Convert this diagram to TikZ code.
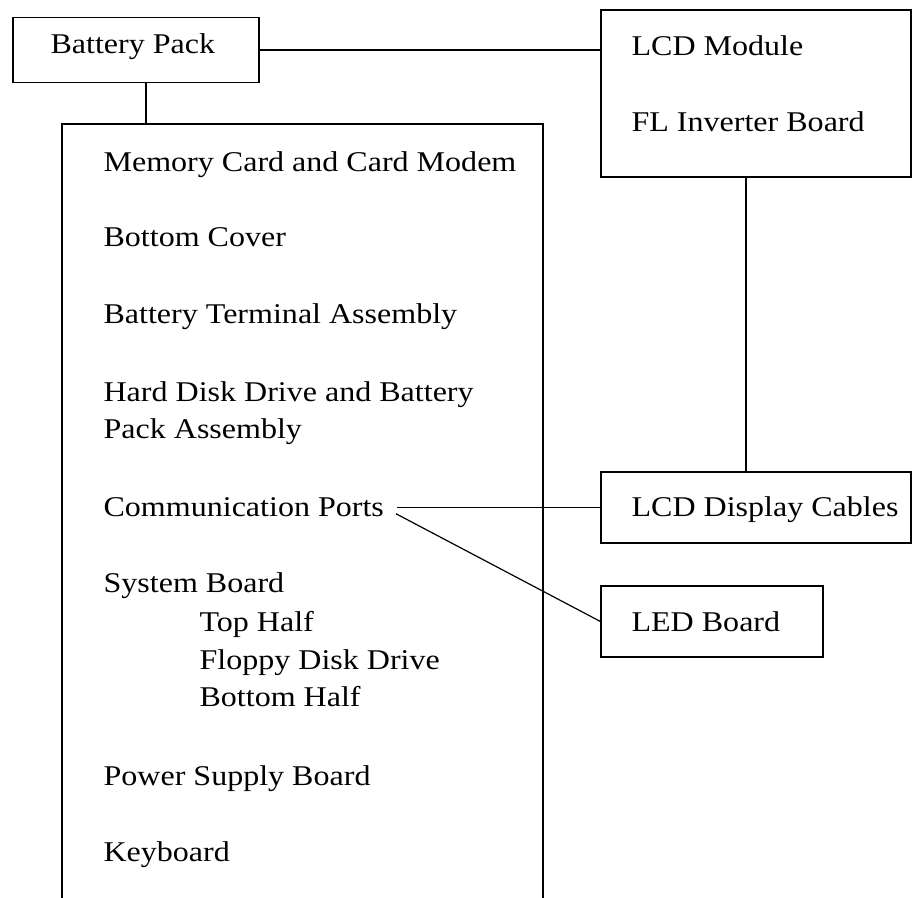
\documentclass[tikz,border=0pt]{standalone}
\usepackage{fontspec}
\setmainfont{Liberation Serif}[FakeStretch=1.12]

\begin{document}
\begin{tikzpicture}[x=0.5pt, y=-0.5pt, line width=0.6pt,
    font=\fontsize{14.3pt}{18.75pt}\selectfont,
    box/.style={draw, inner sep=0pt},
    item/.style={anchor=base west, inner sep=0pt}]
  \useasboundingbox (0,0) rectangle (912,898);

  % boxes
  \node[box, minimum width=123pt, minimum height=32.5pt] (pack) at (136,50) {};
  \node[item] (packtxt) at (50,54) {Battery Pack};
  \node[box, minimum width=155pt, minimum height=83.5pt] (lcd) at (756,93.5) {};
  \node[item] (lcdmod) at (631,56) {LCD Module};
  \node[item] (inverter) at (631,132) {FL Inverter Board};
  \node[box, minimum width=155pt, minimum height=35.5pt] (cables) at (756,507.5) {};
  \node[item] (cabtxt) at (631,517) {LCD Display Cables};
  \node[box, minimum width=111pt, minimum height=35.5pt] (led) at (712,621.5) {};
  \node[item] (ledtxt) at (631,632) {LED Board};

  % the long list, box open at the bottom
  \draw (62,898) |- (543,124) -- (543,898);
  \coordinate (boxtop) at (146,124);
  \node[item] (memory) at (103,172) {Memory Card and Card Modem};
  \node[item] (cover) at (103,247) {Bottom Cover};
  \node[item] (terminal) at (103,324) {Battery Terminal Assembly};
  \node[item] (hdd) at (103,402) {Hard Disk Drive and Battery};
  \node[item] (hddpack) at (103,439) {Pack Assembly};
  \node[item] (comm) at (103,517) {Communication Ports};
  \node[item] (sysboard) at (103,593) {System Board};
  \node[item] (tophalf) at (199,632) {Top Half};
  \node[item] (floppy) at (199,670) {Floppy Disk Drive};
  \node[item] (bothalf) at (199,707) {Bottom Half};
  \node[item] (power) at (103,786) {Power Supply Board};
  \node[item] (keyboard) at (103,862) {Keyboard};

  % connectors
  \draw (pack.east) -- (pack.east -| lcd.west);
  \draw (boxtop |- pack.south) -- (boxtop);
  \draw ([xshift=-5pt]lcd.south) -- ([xshift=-5pt]lcd.south |- cables.north);
  \draw[shorten <=6.5pt] (comm.east) -- (comm.east -| cables.west);
  \draw[shorten <=6.5pt] (comm.east) -- (led.west);
\end{tikzpicture}
\end{document}
